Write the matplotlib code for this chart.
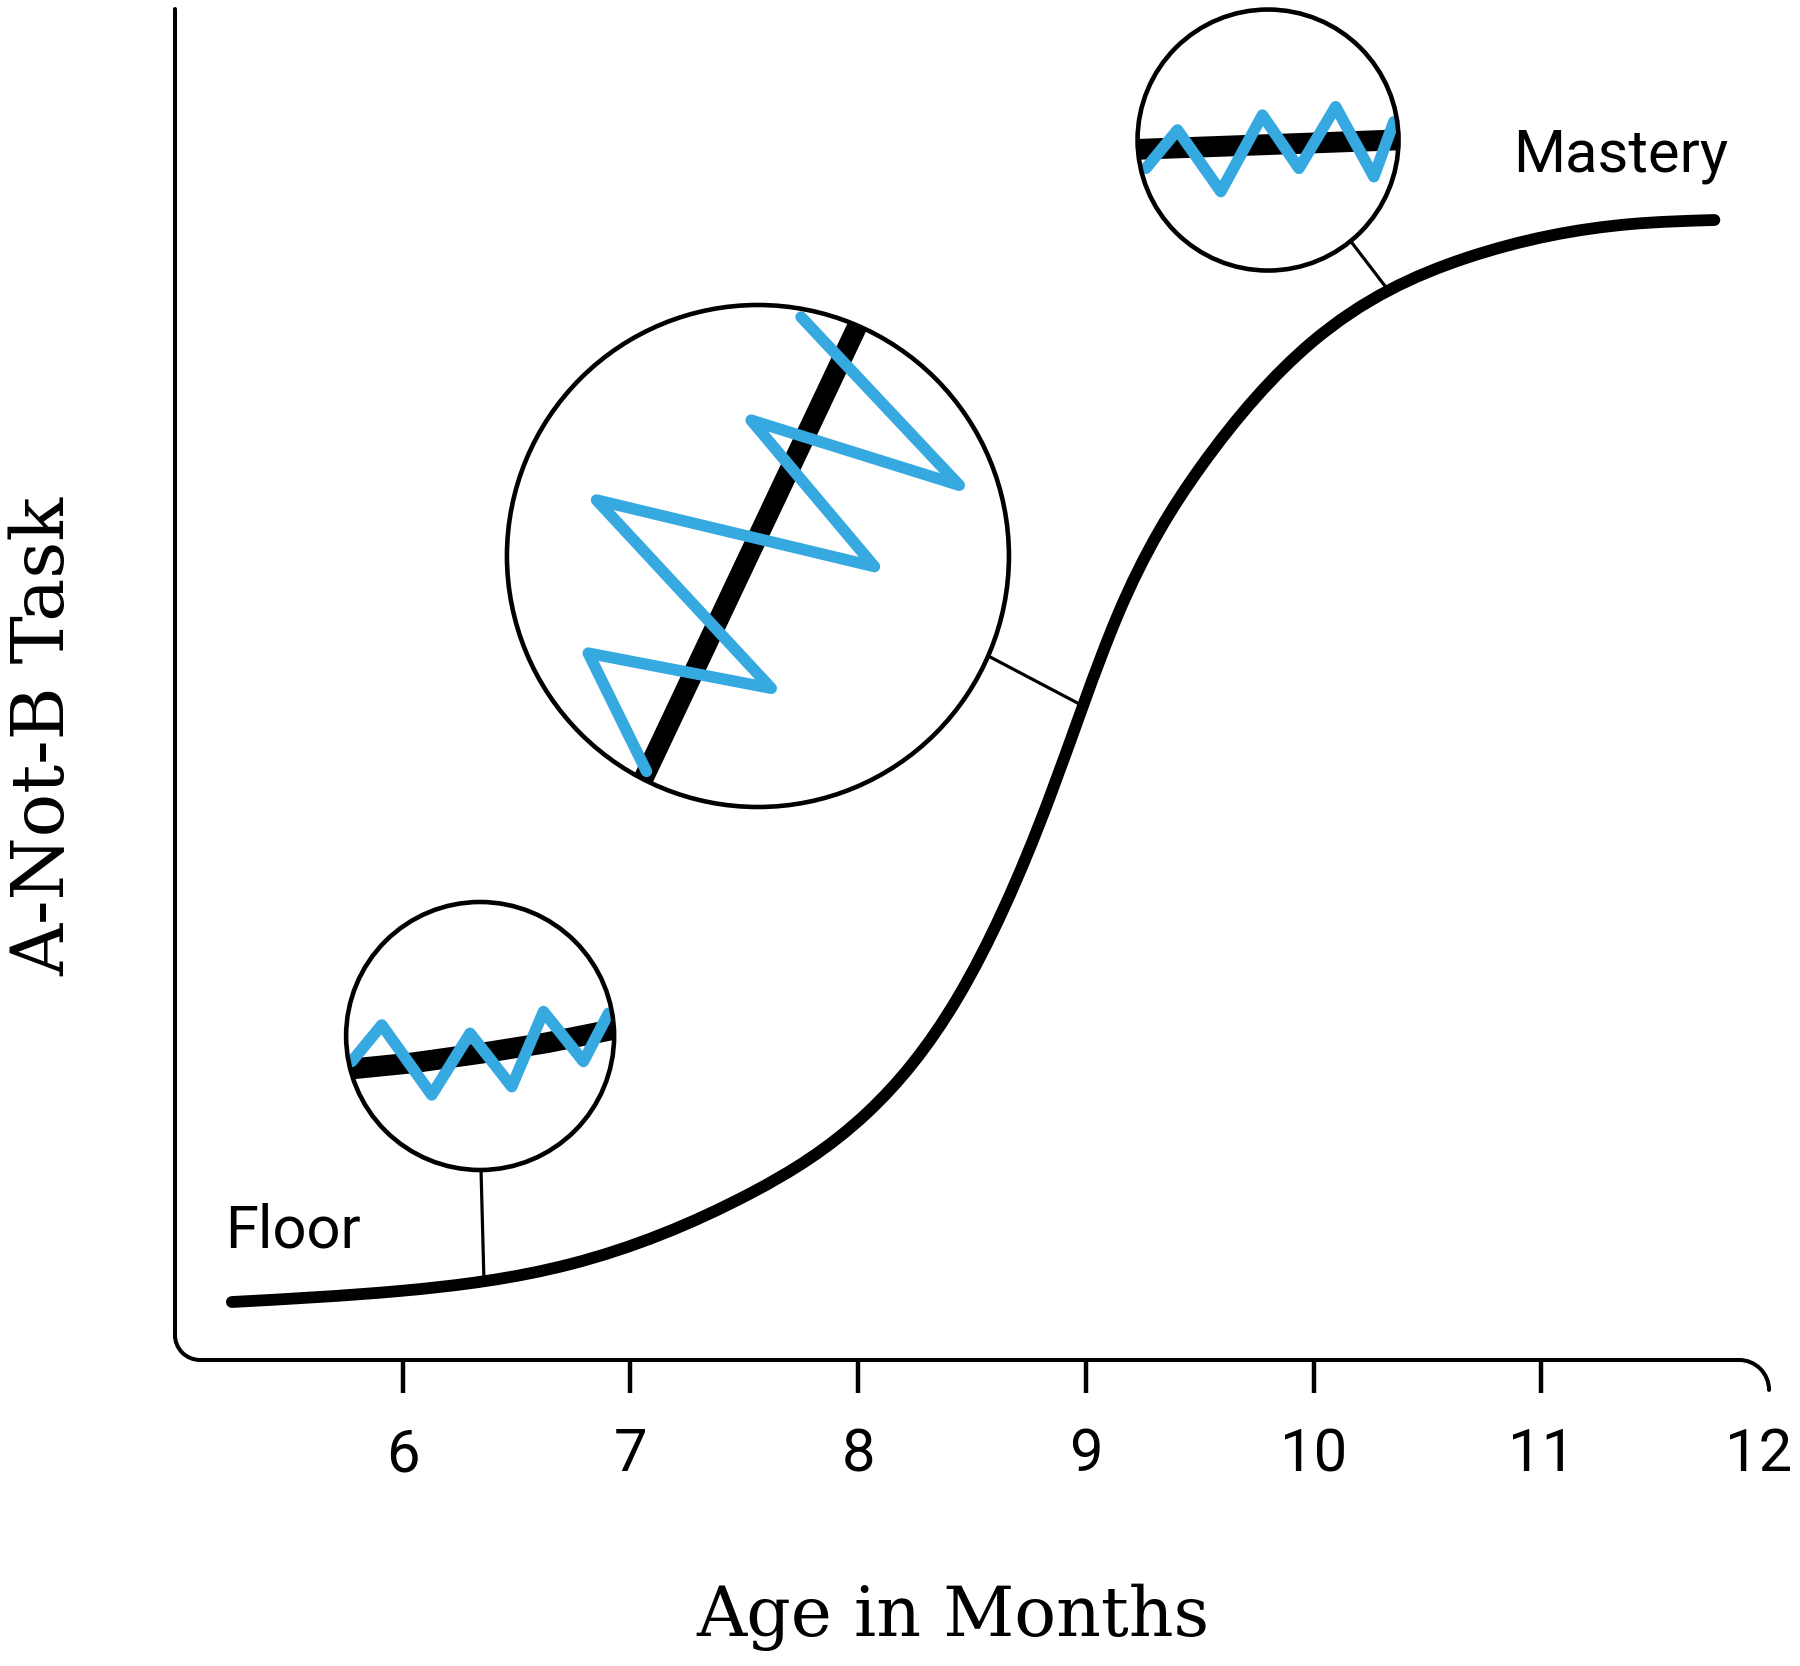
import matplotlib
matplotlib.use("Agg")
import matplotlib.pyplot as plt
import numpy as np
from matplotlib.patches import Circle, Arc, PathPatch
from matplotlib.path import Path
from matplotlib.transforms import ScaledTranslation

plt.rcParams['font.family'] = ['Roboto', 'DejaVu Sans']

BLUE = '#36a9e1'

# development curve: age in months vs A-not-B performance
age = [5.25, 5.99, 6.74, 7.53, 8.04, 8.44, 8.84, 9.14, 9.50, 9.99, 10.67, 11.40, 11.76]
score = [4.29, 5.11, 7.11, 12.36, 18.30, 26.90, 41.60, 55.14, 66.00, 75.30, 81.57, 84.09, 84.38]

xticks = [6, 7, 8, 9, 10, 11, 12]

# magnifier circles: centre (months, score), connector line (x, y)
floor_center = (6.34, 23.98)
floor_link_x = [6.344, 6.357]
floor_link_y = [14.06, 5.80]
mid_center = (7.56, 59.51)
mid_link_x = [8.579, 8.988]
mid_link_y = [52.04, 48.41]
top_center = (9.80, 90.30)
top_link_x = [10.169, 10.327]
top_link_y = [82.68, 79.20]

# what is seen inside each circle (circle-local units, radius = 1)
floor_black_x = [-1.1, -0.5, 0.0, 0.5, 1.1]
floor_black_y = [-0.26, -0.20, -0.13, -0.05, 0.07]
floor_blue_x = [-0.958, -0.734, -0.361, -0.075, 0.236, 0.473, 0.771, 0.958]
floor_blue_y = [-0.19, 0.082, -0.44, 0.02, -0.378, 0.182, -0.19, 0.169]

mid_black_x = [-0.50, 0.45]
mid_black_y = [-0.98, 1.03]
mid_blue_x = [-0.444, -0.676, 0.053, -0.643, 0.464, -0.027, 0.802, 0.172]
mid_blue_y = [-0.858, -0.387, -0.527, 0.223, -0.042, 0.541, 0.282, 0.952]

top_black_x = [-1.1, 0.0, 1.1]
top_black_y = [-0.075, -0.035, 0.005]
top_blue_x = [-0.936, -0.694, -0.362, -0.043, 0.237, 0.518, 0.811, 0.964]
top_blue_y = [-0.217, 0.077, -0.395, 0.191, -0.217, 0.255, -0.281, 0.140]

fig = plt.figure(figsize=(18, 16.66), dpi=100, facecolor='white')
ax = fig.add_axes([0.0972, 0.1837, 0.8856, 0.8109])
ax.set_xlim(5, 12)
ax.set_ylim(0, 100)
for s in ax.spines.values():
    s.set_visible(False)

# smooth (C2) curve through the read points, drawn as Bezier segments
n = len(age)
h = [age[i + 1] - age[i] for i in range(n - 1)]
d = [(score[i + 1] - score[i]) / h[i] for i in range(n - 1)]
A = np.zeros((n, n))
b = np.zeros(n)
A[0, 0], A[0, 1], b[0] = 2, 1, 3 * d[0]
A[-1, -2], A[-1, -1], b[-1] = 1, 2, 3 * d[-1]
for i in range(1, n - 1):
    A[i, i - 1] = h[i]
    A[i, i] = 2 * (h[i - 1] + h[i])
    A[i, i + 1] = h[i - 1]
    b[i] = 3 * (h[i] * d[i - 1] + h[i - 1] * d[i])
m = np.linalg.solve(A, b)
verts = [(age[0], score[0])]
codes = [Path.MOVETO]
for i in range(n - 1):
    verts += [(age[i] + h[i] / 3, score[i] + m[i] * h[i] / 3),
              (age[i + 1] - h[i] / 3, score[i + 1] - m[i + 1] * h[i] / 3),
              (age[i + 1], score[i + 1])]
    codes += [Path.CURVE4] * 3
ax.add_patch(PathPatch(Path(verts, codes), fill=False, edgecolor='black', lw=8.5,
                       capstyle='round', zorder=3))

# axis frame with rounded corners
p0 = ax.transData.transform((5, 0))
p1 = ax.transData.transform((6, 1))
ppx = p1[0] - p0[0]   # px per month
ppy = p1[1] - p0[1]   # px per score unit
r1x, r1y = 25 / ppx, 25 / ppy
r2x, r2y = 30 / ppx, 30 / ppy
frame = dict(color='black', lw=2.9, clip_on=False, solid_capstyle='round')
ax.plot([5, 5], [100, r1y], **frame)
ax.plot([5 + r1x, 12 - r2x], [0, 0], **frame)
ax.add_patch(Arc((5 + r1x, r1y), 2 * r1x, 2 * r1y, theta1=180, theta2=270,
                 color='black', lw=2.9, clip_on=False))
ax.add_patch(Arc((12 - r2x, -r2y), 2 * r2x, 2 * r2y, theta1=0, theta2=90,
                 color='black', lw=2.9, clip_on=False, capstyle='round'))

ax.set_xticks(xticks)
ax.set_xticklabels([str(t) for t in xticks])
ax.set_yticks([])
ax.tick_params(axis='x', length=23.8, width=3.2, pad=24, labelsize=43, color='black')
last = ax.xaxis.get_major_ticks()[-1]
last.tick1line.set_visible(False)
last.label1.set_transform(last.label1.get_transform()
                          + ScaledTranslation(-0.1, 0, fig.dpi_scale_trans))

ax.text(5.22, 8.36, 'Floor', fontsize=43, ha='left', va='baseline')
ax.text(10.876, 87.94, 'Mastery', fontsize=43, ha='left', va='baseline')

# connectors
for lx, ly in [(floor_link_x, floor_link_y), (mid_link_x, mid_link_y), (top_link_x, top_link_y)]:
    ax.plot(lx, ly, color='black', lw=2.3, zorder=2)

fig.text(953 / 1800, 30 / 1666, 'Age in Months', family='DejaVu Serif', fontsize=50,
         ha='center', va='baseline')
fig.text(44 / 1800, 1 - 736 / 1666, 'A-Not-B Task', family='DejaVu Serif', fontsize=52,
         ha='center', va='center', rotation=90)


def magnifier(center, radius_px, bx, by, blw, ux, uy):
    cx, cy = ax.transData.transform(center)
    half = radius_px * 1.1
    W, H = fig.bbox.width, fig.bbox.height
    iax = fig.add_axes([(cx - half) / W, (cy - half) / H, 2 * half / W, 2 * half / H])
    iax.set_xlim(-1.1, 1.1)
    iax.set_ylim(-1.1, 1.1)
    iax.axis('off')
    disc = Circle((0, 0), 1, facecolor='white', edgecolor='none', zorder=1)
    iax.add_patch(disc)
    l1, = iax.plot(bx, by, color='black', lw=blw, zorder=2, solid_capstyle='butt')
    l2, = iax.plot(ux, uy, color=BLUE, lw=8.3, zorder=3,
                   solid_joinstyle='round', solid_capstyle='round')
    l1.set_clip_path(disc)
    l2.set_clip_path(disc)
    iax.add_patch(Circle((0, 0), 1, fill=False, edgecolor='black', lw=3.3, zorder=4))


magnifier(floor_center, 134, floor_black_x, floor_black_y, 15, floor_blue_x, floor_blue_y)
magnifier(mid_center, 251, mid_black_x, mid_black_y, 14.5, mid_blue_x, mid_blue_y)
magnifier(top_center, 130.5, top_black_x, top_black_y, 15, top_blue_x, top_blue_y)

fig.savefig('out.png', dpi=100, facecolor='white')
